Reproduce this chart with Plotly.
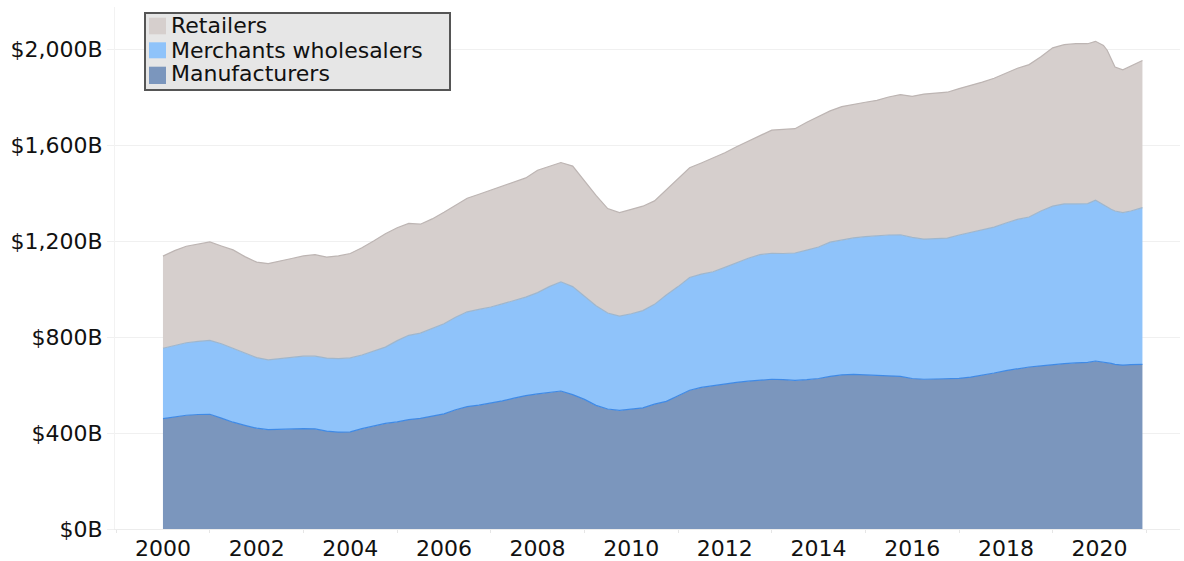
import plotly.graph_objects as go

dates = [
    "2000-01-01", "2000-04-01", "2000-07-01", "2000-10-01",
    "2001-01-01", "2001-04-01", "2001-07-01", "2001-10-01",
    "2002-01-01", "2002-04-01", "2002-07-01", "2002-10-01",
    "2003-01-01", "2003-04-01", "2003-07-01", "2003-10-01",
    "2004-01-01", "2004-04-01", "2004-07-01", "2004-10-01",
    "2005-01-01", "2005-04-01", "2005-07-01", "2005-10-01",
    "2006-01-01", "2006-04-01", "2006-07-01", "2006-10-01",
    "2007-01-01", "2007-04-01", "2007-07-01", "2007-10-01",
    "2008-01-01", "2008-04-01", "2008-07-01", "2008-10-01",
    "2009-01-01", "2009-04-01", "2009-07-01", "2009-10-01",
    "2010-01-01", "2010-04-01", "2010-07-01", "2010-10-01",
    "2011-01-01", "2011-04-01", "2011-07-01", "2011-10-01",
    "2012-01-01", "2012-04-01", "2012-07-01", "2012-10-01",
    "2013-01-01", "2013-04-01", "2013-07-01", "2013-10-01",
    "2014-01-01", "2014-04-01", "2014-07-01", "2014-10-01",
    "2015-01-01", "2015-04-01", "2015-07-01", "2015-10-01",
    "2016-01-01", "2016-04-01", "2016-07-01", "2016-10-01",
    "2017-01-01", "2017-04-01", "2017-07-01", "2017-10-01",
    "2018-01-01", "2018-04-01", "2018-07-01", "2018-10-01",
    "2019-01-01", "2019-04-01", "2019-07-01", "2019-10-01",
    "2019-12-01", "2020-02-01", "2020-03-01", "2020-04-01",
    "2020-05-01", "2020-07-01", "2020-09-01", "2020-12-01",
]

# Billions of dollars
manufacturers = [
    460, 468, 474, 477, 478, 462, 445, 432, 420, 414, 416, 418,
    418, 417, 408, 404, 405, 418, 430, 440, 446, 456, 461, 470,
    480, 497, 510, 516, 524, 534, 545, 556, 563, 570, 575, 560,
    540, 515, 500, 494, 498, 505, 520, 532, 555, 578, 590, 598,
    604, 611, 616, 620, 624, 622, 619, 622, 627, 636, 642, 644,
    642, 641, 640, 636, 627, 624, 625, 626, 628, 633, 640, 650,
    660, 668, 675, 680, 686, 689, 692, 694, 700, 696, 693, 690,
    686, 683, 685, 686,
]
wholesalers = [
    293, 298, 302, 305, 308, 310, 307, 303, 294, 291, 294, 298,
    302, 303, 304, 306, 308, 307, 310, 318, 339, 351, 355, 365,
    375, 385, 395, 399, 401, 404, 407, 410, 422, 440, 455, 450,
    430, 415, 400, 393, 399, 405, 416, 443, 455, 470, 472, 474,
    486, 499, 512, 523, 525, 526, 531, 540, 548, 559, 563, 569,
    576, 582, 585, 590, 588, 584, 585, 586, 597, 602, 605, 608,
    615, 622, 625, 645, 659, 666, 663, 662, 670, 654, 646, 642,
    639, 635, 640, 653,
]
retailers = [
    384, 394, 402, 406, 410, 407, 411, 400, 398, 401, 405, 411,
    418, 423, 421, 428, 435, 447, 460, 472, 470, 466, 454, 457,
    465, 468, 473, 480, 487, 490, 493, 497, 510, 500, 497, 502,
    480, 460, 435, 431, 435, 435, 431, 437, 447, 457, 463, 473,
    478, 483, 487, 497, 513, 517, 518, 533, 543, 547, 555, 557,
    560, 563, 575, 584, 588, 604, 606, 608, 610, 613, 617, 620,
    625, 630, 635, 643, 660, 663, 667, 666, 662, 665, 656, 628,
    600, 595, 603, 613,
]

y_tick_values = [0, 400, 800, 1200, 1600, 2000]
y_tick_labels = ["$0B", "$400B", "$800B", "$1,200B", "$1,600B", "$2,000B"]

series_names = ["Manufacturers", "Merchants wholesalers", "Retailers"]
fill_colors = ["#7b96bd", "#8fc3fa", "#d6cfcd"]
line_colors = ["#3f8ae6", "#9fb6cc", "#bdb5b3"]
series_values = [manufacturers, wholesalers, retailers]

FONT = "DejaVu Sans"

# figure geometry (pixels)
W, H = 1184, 561
ML, MR, MT, MB = 115, 4, 7, 32
PW, PH = W - ML - MR, H - MT - MB


def px(x):
    return (x - ML) / PW


def py(y):
    return (H - MB - y) / PH


fig = go.Figure()
for name, vals, fc, lc in zip(series_names, series_values, fill_colors, line_colors):
    fig.add_trace(go.Scatter(
        x=dates, y=vals, name=name, mode="lines", stackgroup="one",
        fillcolor=fc, line=dict(color=lc, width=1.2), showlegend=False,
        hoverinfo="x+y+name",
    ))

# legend drawn as box + swatches + text (top-to-bottom: Retailers, Wholesalers, Manufacturers)
shapes = [dict(type="rect", xref="paper", yref="paper",
               x0=px(145), x1=px(450), y0=py(90), y1=py(13),
               fillcolor="#e6e6e6", line=dict(color="#555555", width=2), layer="above")]
annotations = []
legend_rows = [(17.7, 34.3, 26), (42.3, 58.3, 50), (66.7, 84.0, 74)]
for (top, bot, mid), name, fc in zip(legend_rows, series_names[::-1], fill_colors[::-1]):
    shapes.append(dict(type="rect", xref="paper", yref="paper",
                       x0=px(149), x1=px(166), y0=py(bot), y1=py(top),
                       fillcolor=fc, line=dict(width=0), layer="above"))
    annotations.append(dict(text=name, xref="paper", yref="paper",
                            x=px(169), y=py(mid), xanchor="left", yanchor="middle",
                            showarrow=False, font=dict(family=FONT, size=22, color="#111111")))

fig.update_layout(
    width=W, height=H,
    margin=dict(l=ML, r=MR, t=MT, b=MB),
    paper_bgcolor="white", plot_bgcolor="white",
    font=dict(family=FONT, size=22, color="#111111"),
    showlegend=False,
    shapes=shapes,
    annotations=annotations,
    xaxis=dict(
        type="date", automargin=False,
        range=["1998-12-23", "2021-09-20"],
        tickformat="%Y", dtick="M24", tick0="2000-01-01",
        ticks="",
        minor=dict(dtick="M12", tick0="1999-01-01", ticks="outside", ticklen=3,
                   tickcolor="#e6e6e6", showgrid=False),
        showgrid=False, showline=True, linecolor="#ececec", linewidth=1,
        tickfont=dict(family=FONT, size=22, color="#111111"),
        zeroline=False,
    ),
    yaxis=dict(
        automargin=False,
        range=[0, 2175],
        tickvals=y_tick_values, ticktext=y_tick_labels,
        showgrid=True, gridcolor="#f0f0f0", gridwidth=1,
        ticks="outside", ticklen=7, tickcolor="#f0f0f0",
        showline=True, linecolor="#f2f2f2", linewidth=1,
        zeroline=False,
        tickfont=dict(family=FONT, size=22, color="#111111"),
    ),
)

fig.write_html("out.html", config={"displayModeBar": False},
               post_script="document.body.style.margin='0';document.body.style.overflow='hidden';")
